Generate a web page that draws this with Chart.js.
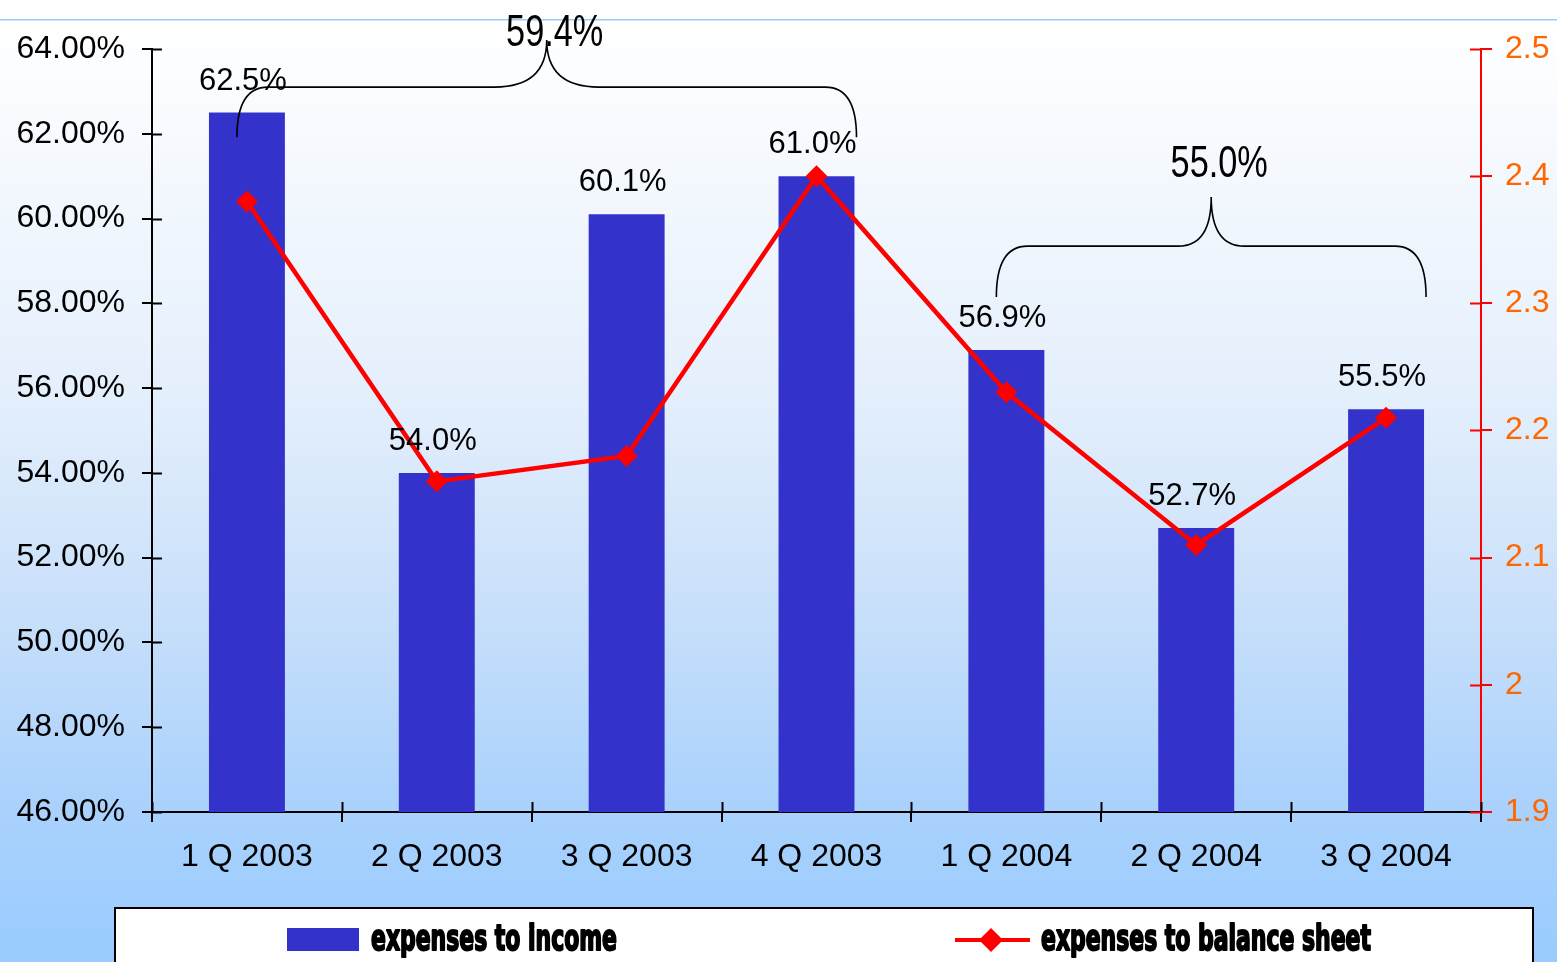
<!DOCTYPE html>
<html>
<head>
<meta charset="utf-8">
<title>Expenses ratios 2003-2004</title>
<script src="https://cdn.jsdelivr.net/npm/chart.js@4.4.1/dist/chart.umd.min.js"></script>
<style>
  html, body { margin: 0; padding: 0; background: #fff; }
  #wrap { width: 1557px; height: 962px; }
</style>
</head>
<body>
<div id="wrap"><canvas id="chart" width="1557" height="962"></canvas></div>
<script>
// Quarterly ratios
const quarters = ['1 Q 2003', '2 Q 2003', '3 Q 2003', '4 Q 2003', '1 Q 2004', '2 Q 2004', '3 Q 2004'];
const expensesToIncome = [62.5, 54.0, 60.1, 61.0, 56.9, 52.7, 55.5];
const expensesToBalance = [2.38, 2.16, 2.18, 2.40, 2.23, 2.11, 2.21];

// Yearly averages shown over the brackets (first/last quarter of each span)
const averageLabels = ['59.4%', '55.0%'];
const averageSpans = [[0, 3], [4, 6]];

const FONT = "'Liberation Sans', Arial, sans-serif";
const BAR_BLUE = '#3333CC';
const LINE_RED = '#FF0000';

/** Light blue gradient page background with the thin rule at the top */
const backdrop = {
  id: 'backdrop',
  beforeDraw(chart) {
    const { ctx, width, height } = chart;
    ctx.save();
    ctx.fillStyle = '#ffffff';
    ctx.fillRect(0, 0, width, height);
    const g = ctx.createLinearGradient(0, 20, 0, height);
    g.addColorStop(0, '#ffffff');
    g.addColorStop(0.4, '#e4effc');
    g.addColorStop(0.62, '#c9e0fa');
    g.addColorStop(0.84, '#a9d1fc');
    g.addColorStop(1, '#99ccff');
    ctx.fillStyle = g;
    ctx.fillRect(0, 20, width, height - 20);
    ctx.fillStyle = '#99ccff';
    ctx.fillRect(0, 19, width, 1.5);
    ctx.restore();
  },
};

/** Inner halves of the axis ticks, so they cross the axis lines */
const crossTicks = {
  id: 'crossTicks',
  afterDraw(chart) {
    const { ctx, chartArea: { left, right, bottom }, scales: { x, y, y1 } } = chart;
    ctx.save();
    ctx.lineWidth = 2;
    ctx.strokeStyle = '#000';
    ctx.beginPath();
    y.ticks.forEach((t, i) => {
      const py = Math.round(y.getPixelForTick(i)) + 0.5;
      ctx.moveTo(left, py); ctx.lineTo(left + 10, py);
    });
    const n = x.ticks.length;
    for (let i = 0; i <= n; i++) {
      const px = Math.round(left + i * (right - left) / n) + 0.5;
      ctx.moveTo(px, bottom); ctx.lineTo(px, bottom - 10);
    }
    ctx.stroke();
    ctx.strokeStyle = LINE_RED;
    ctx.beginPath();
    y1.ticks.forEach((t, i) => {
      const py = Math.round(y1.getPixelForTick(i)) + 0.5;
      ctx.moveTo(right, py); ctx.lineTo(right - 11, py);
    });
    ctx.stroke();
    ctx.restore();
  },
};

/** Percent labels above each bar */
const barLabels = {
  id: 'barLabels',
  afterDatasetsDraw(chart) {
    const { ctx } = chart;
    const meta = chart.getDatasetMeta(0);
    ctx.save();
    ctx.font = `31px ${FONT}`;
    ctx.fillStyle = '#000';
    ctx.textAlign = 'center';
    ctx.textBaseline = 'alphabetic';
    meta.data.forEach((bar, i) => {
      ctx.fillText(expensesToIncome[i].toFixed(1) + '%', bar.x - 4, bar.y - 23);
    });
    ctx.restore();
  },
};

/** Curly brackets over each year with the average ratio */
const brackets = {
  id: 'brackets',
  afterDatasetsDraw(chart, args, opts) {
    const { ctx, scales: { x, y } } = chart;
    ctx.save();
    ctx.strokeStyle = '#000';
    ctx.lineWidth = 1.6;
    averageSpans.forEach(([a, b], i) => {
      const g = opts.shapes[i];
      const x0 = x.getPixelForValue(a) - 10;
      const x1 = x.getPixelForValue(b) + 40;
      const xc = (x0 + x1) / 2;
      const yEnd = y.getPixelForValue(g.ends);
      const yMid = y.getPixelForValue(g.mid);
      const yTip = y.getPixelForValue(g.tip);
      const r = 31;
      const w = g.waist;
      ctx.beginPath();
      ctx.moveTo(x0, yEnd);
      ctx.quadraticCurveTo(x0, yMid, x0 + r, yMid);
      ctx.lineTo(xc - w, yMid);
      ctx.quadraticCurveTo(xc, yMid, xc, yTip);
      ctx.quadraticCurveTo(xc, yMid, xc + w, yMid);
      ctx.lineTo(x1 - r, yMid);
      ctx.quadraticCurveTo(x1, yMid, x1, yEnd);
      ctx.stroke();

      // narrow face: squeeze the regular face horizontally
      ctx.save();
      ctx.font = `44px ${FONT}`;
      ctx.fillStyle = '#000';
      ctx.textAlign = 'center';
      ctx.translate(xc + 8, yTip - g.gap);
      ctx.scale(0.78, 1);
      ctx.fillText(averageLabels[i], 0, 0);
      ctx.restore();
    });
    ctx.restore();
  },
};

/** Boxed legend along the bottom edge */
const boxLegend = {
  id: 'boxLegend',
  afterDraw(chart) {
    const { ctx } = chart;
    const [bars, line] = chart.data.datasets;
    ctx.save();
    ctx.fillStyle = '#fff';
    ctx.fillRect(115, 908, 1418, 80);
    ctx.strokeStyle = '#000';
    ctx.lineWidth = 2;
    ctx.strokeRect(115, 908, 1418, 80);

    ctx.fillStyle = bars.backgroundColor;
    ctx.fillRect(287, 928, 72, 23);

    ctx.strokeStyle = line.borderColor;
    ctx.lineWidth = 4;
    ctx.beginPath();
    ctx.moveTo(955, 940); ctx.lineTo(1030, 940);
    ctx.stroke();
    ctx.fillStyle = line.pointBackgroundColor;
    ctx.beginPath();
    ctx.moveTo(991, 928); ctx.lineTo(1003, 940); ctx.lineTo(991, 952); ctx.lineTo(979, 940);
    ctx.closePath();
    ctx.fill();

    ctx.font = `bold 36px 'DejaVu Sans Condensed', 'DejaVu Sans', sans-serif`;
    ctx.fillStyle = '#000';
    ctx.strokeStyle = '#000';
    ctx.lineWidth = 2;
    ctx.lineJoin = 'round';
    const sx = 246 / ctx.measureText(bars.label).width;
    [[bars.label, 371], [line.label, 1041]].forEach(([txt, tx]) => {
      ctx.save();
      ctx.translate(tx, 950);
      ctx.scale(sx, 1);
      ctx.fillText(txt, 0, 0);
      ctx.strokeText(txt, 0, 0);
      ctx.restore();
    });
    ctx.restore();
  },
};

new Chart(document.getElementById('chart'), {
  data: {
    labels: quarters,
    datasets: [
      {
        type: 'bar',
        label: 'expenses to income',
        data: expensesToIncome,
        backgroundColor: BAR_BLUE,
        categoryPercentage: 1,
        barPercentage: 0.4,
        yAxisID: 'y',
        order: 2,
      },
      {
        type: 'line',
        label: 'expenses to balance sheet',
        data: expensesToBalance,
        borderColor: LINE_RED,
        borderWidth: 4.5,
        pointStyle: 'rectRot',
        pointRadius: 11,
        pointBackgroundColor: LINE_RED,
        pointBorderColor: LINE_RED,
        pointBorderWidth: 0,
        tension: 0,
        yAxisID: 'y1',
        order: 1,
      },
    ],
  },
  options: {
    responsive: false,
    animation: false,
    devicePixelRatio: 1,
    layout: { padding: { top: 49, left: 0, right: 0, bottom: 0 } },
    plugins: {
      legend: { display: false },
      tooltip: { enabled: false },
      brackets: {
        shapes: [
          { ends: 61.92, mid: 63.1, tip: 64.21, waist: 52, gap: -6 },
          { ends: 58.15, mid: 59.35, tip: 60.51, waist: 33, gap: 20 },
        ],
      },
    },
    scales: {
      x: {
        grid: { drawOnChartArea: false, offset: true, tickLength: 10, color: '#000', lineWidth: 2 },
        border: { color: '#000', width: 2 },
        ticks: { font: { size: 32, family: FONT }, color: '#000', padding: 16, maxRotation: 0 },
        afterFit(scale) { scale.height = 150; },
      },
      y: {
        position: 'left',
        min: 46,
        max: 64,
        grid: { drawOnChartArea: false, tickLength: 10, color: '#000', lineWidth: 2 },
        border: { color: '#000', width: 2 },
        ticks: {
          stepSize: 2,
          font: { size: 32, family: FONT },
          color: '#000',
          padding: 17,
          callback: v => v.toFixed(2) + '%',
        },
        afterFit(scale) { scale.width = 152; },
      },
      y1: {
        position: 'right',
        min: 1.9,
        max: 2.5,
        grid: { drawOnChartArea: false, tickLength: 11, color: LINE_RED, lineWidth: 2 },
        border: { color: LINE_RED, width: 2 },
        ticks: {
          stepSize: 0.1,
          font: { size: 32, family: FONT },
          color: '#FF6600',
          padding: 13,
          callback: v => String(+v.toFixed(1)),
        },
        afterFit(scale) { scale.width = 76; },
      },
    },
  },
  plugins: [backdrop, crossTicks, barLabels, brackets, boxLegend],
});
</script>
</body>
</html>
